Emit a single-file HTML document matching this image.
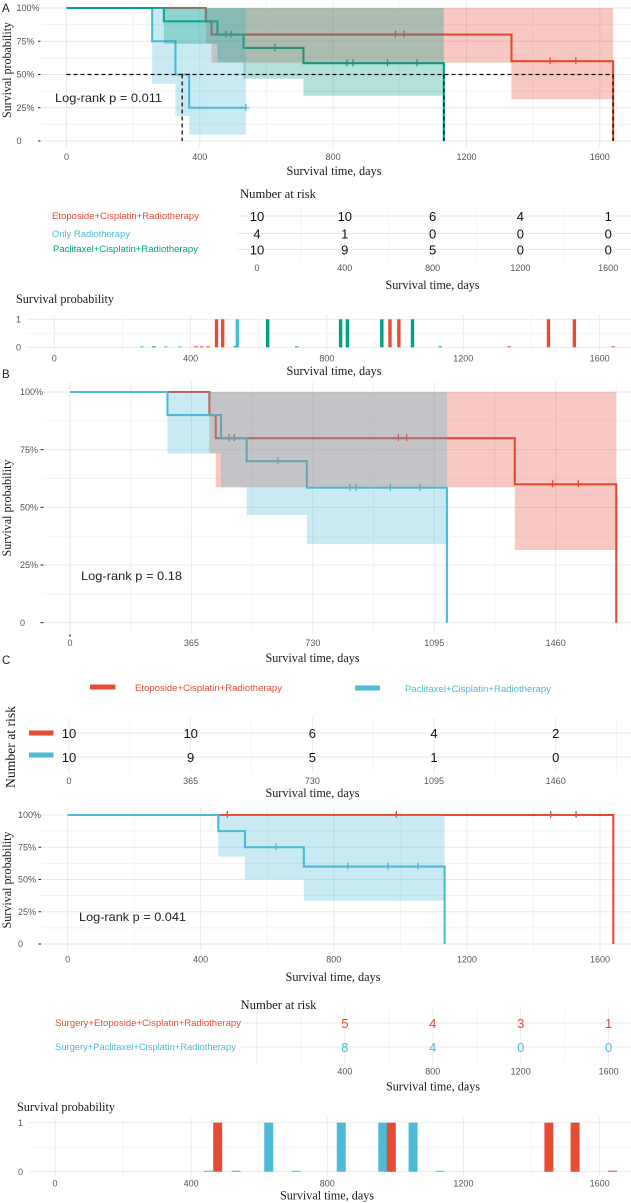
<!DOCTYPE html>
<html lang="en">
<head>
<meta charset="utf-8">
<title>Survival curves</title>
<style>
html,body{margin:0;padding:0;background:#fff;width:631px;height:1203px;overflow:hidden}
svg{display:block;filter:blur(0.35px)}
.sans{font-family:"Liberation Sans",sans-serif}
.serif{font-family:"Liberation Serif",serif;fill:#1a1a1a}
</style>
</head>
<body>
<svg id="fig" xmlns="http://www.w3.org/2000/svg" width="631" height="1203" viewBox="0 0 631 1203">
  <rect width="631" height="1203" fill="#fff"/>
  <g id="layer"></g>
  <g id="labels">
    <text class="sans" x="2" y="12" font-size="11.5" fill="#222">A</text>
    <text class="sans" x="2" y="378" font-size="11.5" fill="#222">B</text>
    <text class="sans" x="2" y="664" font-size="11.5" fill="#222">C</text>

    <text class="serif" font-size="12.5" text-anchor="middle" transform="translate(11,70) rotate(-90)" textLength="96" lengthAdjust="spacingAndGlyphs">Survival probability</text>
    <text class="serif" x="334" y="175" font-size="12.5" text-anchor="middle" textLength="95" lengthAdjust="spacingAndGlyphs">Survival time, days</text>
    <text class="sans" x="55" y="102" font-size="12" fill="#222" textLength="107" lengthAdjust="spacingAndGlyphs">Log-rank p = 0.011</text>
    <text class="serif" x="240" y="198" font-size="12.5" textLength="76" lengthAdjust="spacingAndGlyphs">Number at risk</text>
    <text class="sans" x="52" y="219" font-size="9" fill="#E64B35" textLength="147" lengthAdjust="spacingAndGlyphs">Etoposide+Cisplatin+Radiotherapy</text>
    <text class="sans" x="52" y="237" font-size="9" fill="#4DBBD5" textLength="78" lengthAdjust="spacingAndGlyphs">Only Radiotherapy</text>
    <text class="sans" x="53" y="252" font-size="9" fill="#00A087" textLength="145" lengthAdjust="spacingAndGlyphs">Paclitaxel+Cisplatin+Radiotherapy</text>
    <text class="serif" x="432.5" y="289" font-size="12.5" text-anchor="middle" textLength="94" lengthAdjust="spacingAndGlyphs">Survival time, days</text>
    <text class="serif" x="16" y="303" font-size="12.5" textLength="98" lengthAdjust="spacingAndGlyphs">Survival probability</text>
    <text class="serif" x="334" y="375" font-size="12.5" text-anchor="middle" textLength="95" lengthAdjust="spacingAndGlyphs">Survival time, days</text>

    <text class="serif" font-size="12.5" text-anchor="middle" transform="translate(11,508) rotate(-90)" textLength="97" lengthAdjust="spacingAndGlyphs">Survival probability</text>
    <text class="serif" x="312.5" y="662" font-size="12.5" text-anchor="middle" textLength="94" lengthAdjust="spacingAndGlyphs">Survival time, days</text>
    <text class="sans" x="81" y="580" font-size="12" fill="#222" textLength="101" lengthAdjust="spacingAndGlyphs">Log-rank p = 0.18</text>

    <rect x="90" y="684.5" width="25.5" height="5" fill="#E64B35"/>
    <text class="sans" x="135" y="691" font-size="9" fill="#E64B35" textLength="147" lengthAdjust="spacingAndGlyphs">Etoposide+Cisplatin+Radiotherapy</text>
    <rect x="355" y="685.5" width="25" height="5" fill="#4DBBD5"/>
    <text class="sans" x="405" y="692" font-size="9" fill="#4DBBD5" textLength="146" lengthAdjust="spacingAndGlyphs">Paclitaxel+Cisplatin+Radiotherapy</text>
    <text class="serif" font-size="14" text-anchor="middle" transform="translate(15,747) rotate(-90)" textLength="82" lengthAdjust="spacingAndGlyphs">Number at risk</text>
    <rect x="29" y="730.5" width="24.5" height="5" fill="#E64B35"/>
    <rect x="29" y="752.5" width="24.5" height="5" fill="#4DBBD5"/>
    <text class="serif" x="312.5" y="797" font-size="12.5" text-anchor="middle" textLength="94" lengthAdjust="spacingAndGlyphs">Survival time, days</text>

    <text class="serif" font-size="12.5" text-anchor="middle" transform="translate(11,880) rotate(-90)" textLength="97" lengthAdjust="spacingAndGlyphs">Survival probability</text>
    <text class="serif" x="333" y="981" font-size="12.5" text-anchor="middle" textLength="95" lengthAdjust="spacingAndGlyphs">Survival time, days</text>
    <text class="sans" x="79" y="921" font-size="12" fill="#222" textLength="107" lengthAdjust="spacingAndGlyphs">Log-rank p = 0.041</text>
    <text class="serif" x="240.5" y="1009" font-size="12.5" textLength="76" lengthAdjust="spacingAndGlyphs">Number at risk</text>
    <text class="sans" x="55" y="1026" font-size="9" fill="#E64B35" textLength="186" lengthAdjust="spacingAndGlyphs">Surgery+Etoposide+Cisplatin+Radiotherapy</text>
    <text class="sans" x="55" y="1050" font-size="9" fill="#4DBBD5" textLength="181" lengthAdjust="spacingAndGlyphs">Surgery+Paclitaxel+Cisplatin+Radiotherapy</text>
    <text class="serif" x="433" y="1090.5" font-size="12.5" text-anchor="middle" textLength="94" lengthAdjust="spacingAndGlyphs">Survival time, days</text>
    <text class="serif" x="17" y="1111" font-size="12.5" textLength="98" lengthAdjust="spacingAndGlyphs">Survival probability</text>
    <text class="serif" x="327" y="1199.5" font-size="12.5" text-anchor="middle" textLength="94" lengthAdjust="spacingAndGlyphs">Survival time, days</text>
  </g>
</svg>
<script>
// ---------- Panel A Kaplan-Meier data ----------
const aRedTimes = [0, 418, 435, 1335, 1640];
const aRedSurv = [1, 0.9, 0.8, 0.6, 0];
const aRedLower = [1, 0.735, 0.589, 0.315, 0];
const aRedCensor = [478, 494, 987, 1012, 1451, 1528];
const aBlueTimes = [0, 257, 327, 368, 538];
const aBlueSurv = [1, 0.75, 0.5, 0.25, 0.25];
const aBlueLower = [1, 0.43, 0.188, 0.047, 0.047];
const aBlueCensor = [538];
const aGreenTimes = [0, 292, 453, 531, 711, 1132];
const aGreenSurv = [1, 0.9, 0.8, 0.7, 0.585, 0];
const aGreenLower = [1, 0.73, 0.59, 0.468, 0.34, 0];
const aGreenCensor = [625, 841, 860, 963, 1052];
const aMedians = [347, 1132, 1640];
const aXTicks = [0, 400, 800, 1200, 1600];
const aXMinor = [200, 600, 1000, 1400];

// ---------- Panel A risk table ----------
const aRiskTimes = [0, 400, 800, 1200, 1600];
const aRiskRed = [10, 10, 6, 4, 1];
const aRiskBlue = [4, 1, 0, 0, 0];
const aRiskGreen = [10, 9, 5, 0, 0];

// ---------- Panel A censor plot ----------
const aCensorRedTimes = [416, 432, 451, 476, 494, 985, 1011, 1335, 1450, 1526, 1640];
const aCensorRedCounts = [0, 0, 0, 1, 1, 1, 1, 0, 1, 1, 0];
const aCensorBlueTimes = [257, 327, 368, 537];
const aCensorBlueCounts = [0, 0, 0, 1];
const aCensorGreenTimes = [292, 531, 626, 711, 840, 860, 961, 1051, 1132];
const aCensorGreenCounts = [0, 0, 1, 0, 1, 1, 1, 1, 0];

// ---------- Panel B Kaplan-Meier data ----------
const bRedTimes = [0, 419, 438, 1337, 1642];
const bRedSurv = [1, 0.9, 0.8, 0.6, 0];
const bRedLower = [1, 0.734, 0.587, 0.315, 0];
const bRedCensor = [478, 494, 987, 1012, 1451, 1528];
const bBlueTimes = [0, 293, 454, 531, 712, 1133];
const bBlueSurv = [1, 0.9, 0.8, 0.7, 0.585, 0];
const bBlueLower = [1, 0.734, 0.587, 0.467, 0.341, 0];
const bBlueCensor = [625, 841, 860, 963, 1052];
const bXTicks = [0, 365, 730, 1095, 1460];
const bXMinor = [182.5, 547.5, 912.5, 1277.5, 1642.5];

// ---------- Panel C risk table ----------
const cRiskTimes = [0, 365, 730, 1095, 1460];
const cRiskRed = [10, 10, 6, 4, 2];
const cRiskBlue = [10, 9, 5, 1, 0];

// ---------- Panel C Kaplan-Meier data ----------
const cRedTimes = [0, 1640];
const cRedSurv = [1, 0];
const cRedLower = [1, 0];
const cRedCensor = [480, 988, 1452, 1528];
const cBlueTimes = [0, 453, 533, 710, 1133];
const cBlueSurv = [1, 0.875, 0.75, 0.6, 0];
const cBlueLower = [1, 0.677, 0.5, 0.336, 0];
const cBlueCensor = [626, 842, 963, 1053];

// ---------- Panel C lower risk table ----------
const dRiskTimes = [400, 800, 1200, 1600];
const dRiskRed = [5, 4, 3, 1];
const dRiskBlue = [8, 4, 0, 0];

// ---------- Panel C censor plot ----------
const dCensorRedTimes = [478, 988, 1451, 1528, 1638];
const dCensorRedCounts = [1, 1, 1, 1, 0];
const dCensorBlueTimes = [451, 532, 628, 709, 841, 963, 1052, 1131];
const dCensorBlueCounts = [0, 0, 1, 0, 1, 1, 1, 0];

// ---------- shared axis tick labels ----------
const survTicks = [0, 0.25, 0.5, 0.75, 1];
const survMinor = [0.125, 0.375, 0.625, 0.875];
const survTickLabels = ['0', '25%', '50%', '75%', '100%'];
const censorTicks = [0, 1];
const censorMinor = [0.5];

const RED = '#E64B35', BLUE = '#4DBBD5', GREEN = '#00A087';
const NS = 'http://www.w3.org/2000/svg';
const root = document.getElementById('layer');

function mk(tag, parent, attrs, txt) {
  const e = document.createElementNS(NS, tag);
  for (const k in attrs) e.setAttribute(k, attrs[k]);
  if (txt !== undefined) e.textContent = txt;
  parent.appendChild(e);
  return e;
}
function linear(d0, r0, d1, r1) {
  return function (v) { return r0 + (v - d0) * (r1 - r0) / (d1 - d0); };
}
function group(name) {
  const g = mk('g', root, {});
  
  
  return g;
}
function vGrid(g, x, values, y0, y1, color, name) {
  values.forEach(function (v) {
    const el = mk('line', g, {x1: x(v), x2: x(v), y1: y0, y2: y1, stroke: color, 'stroke-width': 0.9});
    
    
  });
}
function hGrid(g, y, values, x0, x1, color, name) {
  values.forEach(function (v) {
    const el = mk('line', g, {x1: x0, x2: x1, y1: y(v), y2: y(v), stroke: color, 'stroke-width': 0.9});
    
    
  });
}
function tickText(g, x, y, str, anchor, name) {
  const el = mk('text', g, {x: x, y: y, 'font-size': 9, fill: '#555', 'text-anchor': anchor, 'font-family': '"Liberation Sans",sans-serif'}, str);
  
  
  return el;
}
function survAt(times, surv, t) {
  let s = surv[0];
  for (let i = 0; i < times.length; i++) { if (t >= times[i]) s = surv[i]; }
  return s;
}
function drawLine(g, x, y, times, surv, color, censor, name) {
  let d = 'M' + x(times[0]) + ' ' + y(surv[0]);
  for (let i = 1; i < times.length; i++) {
    d += 'H' + x(times[i]) + 'V' + y(surv[i]);
  }
  const el = mk('path', g, {d: d, fill: 'none', stroke: color, 'stroke-width': 2.1});
  
  
  censor.forEach(function (t) {
    const cx = x(t), cy = y(survAt(times, surv, t));
    const m = mk('path', g, {d: 'M' + (cx - 3.5) + ' ' + cy + 'H' + (cx + 3.5) + 'M' + cx + ' ' + (cy - 4) + 'V' + (cy + 3), fill: 'none', stroke: color, 'stroke-width': 1.3});
    
    
  });
}
function drawBand(g, x, y, times, lower, color, name) {
  const n = times.length - 1;
  let d = 'M' + x(times[0]) + ' ' + y(1) + 'H' + x(times[n]);
  for (let i = n - 1; i >= 0; i--) {
    d += 'V' + y(lower[i]) + 'H' + x(times[i]);
  }
  d += 'Z';
  const el = mk('path', g, {d: d, fill: color, 'fill-opacity': 0.3});
  
  
}
function yAxis(g, y, labelX, tickX0, tickX1, name) {
  survTicks.forEach(function (v, i) {
    tickText(g, labelX, y(v) + 3.2, survTickLabels[i], 'start', name + '-y-tick-label');
    if (i < survTicks.length - 1) {
      const t = mk('line', g, {x1: tickX0, x2: tickX1, y1: y(v), y2: y(v), stroke: '#222', 'stroke-width': 1});
      
      
    }
  });
}
function xLabels(g, x, values, yPos, name) {
  values.forEach(function (v) {
    tickText(g, x(v), yPos, String(v), 'middle', name + '-x-tick-label');
  });
}
function riskRow(g, x, times, counts, yPos, color, size, name) {
  times.forEach(function (t, i) {
    const el = mk('text', g, {x: x(t), y: yPos, 'font-size': size, fill: color, 'text-anchor': 'middle', 'font-family': '"Liberation Sans",sans-serif'}, String(counts[i]));
    
    
  });
}
function censorBars(g, x, y, times, counts, color, width, name) {
  times.forEach(function (t, i) {
    const top = y(counts[i]);
    const h = Math.max(1, y(0) - top);
    const el = mk('rect', g, {x: x(t) - width / 2, y: y(0) - h, width: width, height: h, fill: color});
    
    
  });
}
const MAJOR = '#e8e8e8', MINOR = '#f3f3f3';

// ===== Panel A survival plot =====
(function () {
  const g = group('panel-a-survival-plot');
  const x = linear(0, 66.5, 1600, 599.8), y = linear(0, 141, 1, 8);
  vGrid(g, x, aXMinor, 2, 147, MINOR, 'a-x-minor-grid');
  hGrid(g, y, survMinor, 41, 631, MINOR, 'a-y-minor-grid');
  vGrid(g, x, aXTicks, 2, 147, MAJOR, 'a-x-major-grid');
  hGrid(g, y, survTicks, 41, 631, MAJOR, 'a-y-major-grid');
  yAxis(g, y, 16.5, 38, 40.5, 'a');
  xLabels(g, x, aXTicks, 160, 'a');
  drawLine(g, x, y, aRedTimes, aRedSurv, RED, aRedCensor, 'a-etoposide');
  drawLine(g, x, y, aBlueTimes, aBlueSurv, BLUE, aBlueCensor, 'a-radiotherapy');
  drawLine(g, x, y, aGreenTimes, aGreenSurv, GREEN, aGreenCensor, 'a-paclitaxel');
  drawBand(g, x, y, aRedTimes, aRedLower, RED, 'a-etoposide');
  drawBand(g, x, y, aBlueTimes, aBlueLower, BLUE, 'a-radiotherapy');
  drawBand(g, x, y, aGreenTimes, aGreenLower, GREEN, 'a-paclitaxel');
  const last = aMedians[aMedians.length - 1];
  const h = mk('line', g, {x1: x(0), x2: x(last), y1: y(0.5), y2: y(0.5), stroke: '#000', 'stroke-width': 1.2, 'stroke-dasharray': '4 3'});
  
  
  aMedians.forEach(function (m) {
    const v = mk('line', g, {x1: x(m), x2: x(m), y1: y(0.5), y2: y(0), stroke: '#000', 'stroke-width': 1.2, 'stroke-dasharray': '4 3'});
    
    
  });
})();

// ===== Panel A risk table =====
(function () {
  const g = group('panel-a-risk-table');
  const x = linear(0, 257, 1600, 608.2);
  const rows = [216, 233.5, 249.5];
  vGrid(g, x, aXMinor, 207, 260, MINOR, 'a-risk-minor-grid');
  vGrid(g, x, aRiskTimes, 207, 260, MAJOR, 'a-risk-major-grid');
  hGrid(g, function (v) { return v; }, rows, 237, 631, MAJOR, 'a-risk-row-grid');
  riskRow(g, x, aRiskTimes, aRiskRed, rows[0] + 5, '#111', 13, 'a-risk-etoposide');
  riskRow(g, x, aRiskTimes, aRiskBlue, rows[1] + 5, '#111', 13, 'a-risk-radiotherapy');
  riskRow(g, x, aRiskTimes, aRiskGreen, rows[2] + 5, '#111', 13, 'a-risk-paclitaxel');
  xLabels(g, x, aRiskTimes, 271, 'a-risk');
})();

// ===== Panel A censor plot =====
(function () {
  const g = group('panel-a-censor-plot');
  const x = linear(0, 54.3, 1600, 599.6), y = linear(0, 347.3, 1, 319.3);
  vGrid(g, x, aXMinor, 315, 351, MINOR, 'a-censor-minor-grid');
  vGrid(g, x, aXTicks, 315, 351, MAJOR, 'a-censor-major-grid');
  hGrid(g, y, censorMinor, 27, 631, MINOR, 'a-censor-mid-grid');
  hGrid(g, y, censorTicks, 27, 631, MAJOR, 'a-censor-row-grid');
  censorTicks.forEach(function (v) { tickText(g, 16, y(v) + 3.2, String(v), 'start', 'a-censor-y-tick-label'); });
  xLabels(g, x, aXTicks, 361.5, 'a-censor');
  censorBars(g, x, y, aCensorRedTimes, aCensorRedCounts, RED, 3.4, 'a-etoposide');
  censorBars(g, x, y, aCensorBlueTimes, aCensorBlueCounts, BLUE, 3.4, 'a-radiotherapy');
  censorBars(g, x, y, aCensorGreenTimes, aCensorGreenCounts, GREEN, 3.4, 'a-paclitaxel');
})();

// ===== Panel B survival plot =====
(function () {
  const g = group('panel-b-survival-plot');
  const x = linear(0, 70, 1460, 555.7), y = linear(0, 622.7, 1, 392);
  vGrid(g, x, bXMinor, 382, 633, MINOR, 'b-x-minor-grid');
  hGrid(g, y, survMinor, 43, 631, MINOR, 'b-y-minor-grid');
  vGrid(g, x, bXTicks, 382, 633, MAJOR, 'b-x-major-grid');
  hGrid(g, y, survTicks, 43, 631, MAJOR, 'b-y-major-grid');
  yAxis(g, y, 20, 40.5, 43.5, 'b');
  xLabels(g, x, bXTicks, 646, 'b');
  const t0 = mk('line', g, {x1: x(0), x2: x(0), y1: 634, y2: 637, stroke: '#222', 'stroke-width': 1});
  
  
  drawLine(g, x, y, bRedTimes, bRedSurv, RED, bRedCensor, 'b-etoposide');
  drawLine(g, x, y, bBlueTimes, bBlueSurv, BLUE, bBlueCensor, 'b-paclitaxel');
  drawBand(g, x, y, bRedTimes, bRedLower, RED, 'b-etoposide');
  drawBand(g, x, y, bBlueTimes, bBlueLower, BLUE, 'b-paclitaxel');
})();

// ===== Panel C risk table =====
(function () {
  const g = group('panel-c-risk-table');
  const x = linear(0, 69, 1460, 555.7);
  const rows = [733, 757];
  vGrid(g, x, bXMinor, 718, 773, MINOR, 'c-risk-minor-grid');
  vGrid(g, x, cRiskTimes, 718, 773, MAJOR, 'c-risk-major-grid');
  hGrid(g, function (v) { return v; }, rows, 60, 631, MAJOR, 'c-risk-row-grid');
  riskRow(g, x, cRiskTimes, cRiskRed, rows[0] + 5, '#111', 13, 'c-risk-etoposide');
  riskRow(g, x, cRiskTimes, cRiskBlue, rows[1] + 5, '#111', 13, 'c-risk-paclitaxel');
  xLabels(g, x, cRiskTimes, 784, 'c-risk');
})();

// ===== Panel C survival plot =====
(function () {
  const g = group('panel-c-survival-plot');
  const x = linear(0, 67.6, 1600, 600), y = linear(0, 944, 1, 815);
  vGrid(g, x, aXMinor, 808, 950, MINOR, 'c-x-minor-grid');
  hGrid(g, y, survMinor, 41, 631, MINOR, 'c-y-minor-grid');
  vGrid(g, x, aXTicks, 808, 950, MAJOR, 'c-x-major-grid');
  hGrid(g, y, survTicks, 41, 631, MAJOR, 'c-y-major-grid');
  yAxis(g, y, 18, 38.5, 41, 'c');
  xLabels(g, x, aXTicks, 962.5, 'c');
  drawLine(g, x, y, cRedTimes, cRedSurv, RED, cRedCensor, 'c-etoposide');
  drawLine(g, x, y, cBlueTimes, cBlueSurv, BLUE, cBlueCensor, 'c-paclitaxel');
  drawBand(g, x, y, cBlueTimes, cBlueLower, BLUE, 'c-paclitaxel');
})();

// ===== Panel C lower risk table =====
(function () {
  const g = group('panel-c-lower-risk-table');
  const x = linear(0, 257, 1600, 608.6);
  const rows = [1023, 1047];
  vGrid(g, x, aXMinor, 1008, 1063, MINOR, 'd-risk-minor-grid');
  vGrid(g, x, [0].concat(dRiskTimes), 1008, 1063, MAJOR, 'd-risk-major-grid');
  hGrid(g, function (v) { return v; }, rows, 241, 631, MAJOR, 'd-risk-row-grid');
  riskRow(g, x, dRiskTimes, dRiskRed, rows[0] + 5, RED, 13, 'd-risk-etoposide');
  riskRow(g, x, dRiskTimes, dRiskBlue, rows[1] + 5, BLUE, 13, 'd-risk-paclitaxel');
  xLabels(g, x, dRiskTimes, 1074.5, 'd-risk');
})();

// ===== Panel C censor plot =====
(function () {
  const g = group('panel-c-censor-plot');
  const x = linear(0, 55, 1600, 599.6), y = linear(0, 1171.7, 1, 1122.7);
  vGrid(g, x, aXMinor, 1118, 1176, MINOR, 'd-censor-minor-grid');
  vGrid(g, x, aXTicks, 1118, 1176, MAJOR, 'd-censor-major-grid');
  hGrid(g, y, censorMinor, 29, 631, MINOR, 'd-censor-mid-grid');
  hGrid(g, y, censorTicks, 29, 631, MAJOR, 'd-censor-row-grid');
  censorTicks.forEach(function (v) { tickText(g, 18, y(v) + 3.2, String(v), 'start', 'd-censor-y-tick-label'); });
  xLabels(g, x, aXTicks, 1186.5, 'd-censor');
  censorBars(g, x, y, dCensorBlueTimes, dCensorBlueCounts, BLUE, 9, 'd-paclitaxel');
  censorBars(g, x, y, dCensorRedTimes, dCensorRedCounts, RED, 9, 'd-etoposide');
})();
</script>
</body>
</html>
